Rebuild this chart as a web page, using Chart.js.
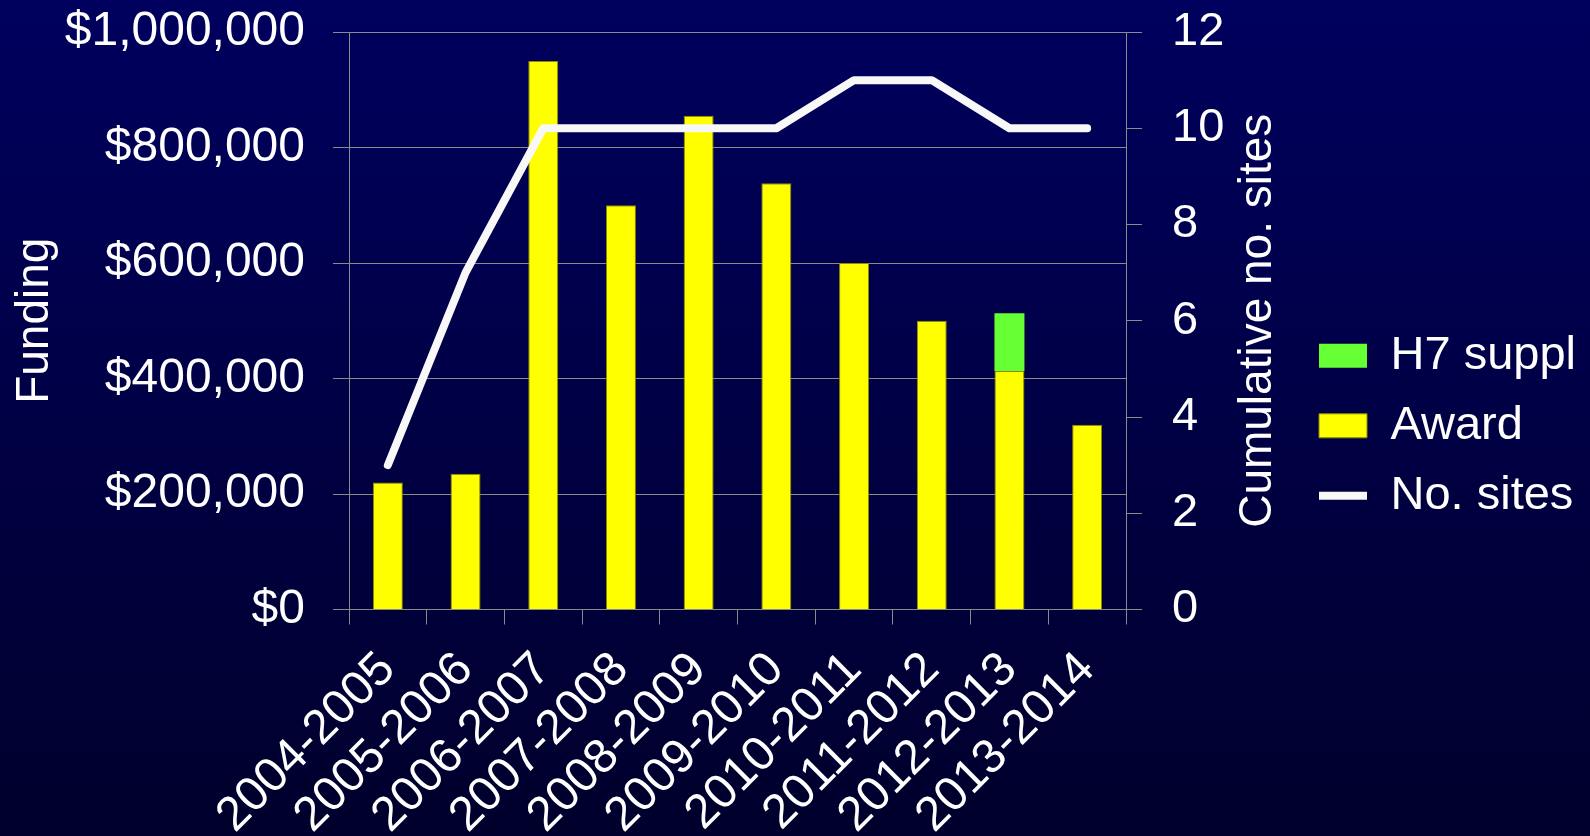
<!DOCTYPE html>
<html>
<head>
<meta charset="utf-8">
<title>Funding and sites</title>
<script src="https://cdn.jsdelivr.net/npm/chart.js@4.4.1/dist/chart.umd.min.js"></script>
<style>
  html, body { margin: 0; padding: 0; background: #000046; }
  #wrap { width: 1590px; height: 836px; }
</style>
</head>
<body>
<div id="wrap"><canvas id="chart" width="1590" height="836"></canvas></div>
<script>
// Chart data
const periods = ['2004-2005', '2005-2006', '2006-2007', '2007-2008', '2008-2009',
                 '2009-2010', '2010-2011', '2011-2012', '2012-2013', '2013-2014'];
const awardFunding = [220000, 235000, 950000, 700000, 855000, 738000, 600000, 500000, 413000, 320000];
const h7Supplement = [0, 0, 0, 0, 0, 0, 0, 0, 100000, 0];
const siteCounts = [3, 7, 10, 10, 10, 10, 11, 11, 10, 10];
const fundingTicks = [0, 200000, 400000, 600000, 800000, 1000000];
const siteTicks = [0, 2, 4, 6, 8, 10, 12];
const legendOrder = ['H7 suppl', 'Award', 'No. sites'];

const FONT = "'Liberation Sans', Arial, sans-serif";
const GRID = '#8a8a8a';

Chart.defaults.font.family = FONT;
Chart.defaults.font.size = 47;
Chart.defaults.color = '#ffffff';

// Dark blue gradient behind everything
const backgroundPlugin = {
  id: 'slideBackground',
  beforeDraw(chart) {
    const { ctx, width, height } = chart;
    const grad = ctx.createLinearGradient(0, 0, 0, height);
    grad.addColorStop(0, '#00005e');
    grad.addColorStop(1, '#00002c');
    ctx.save();
    ctx.fillStyle = grad;
    ctx.fillRect(0, 0, width, height);
    ctx.restore();
  }
};

// Right axis title reads bottom-to-top, so draw it ourselves
const rightTitlePlugin = {
  id: 'rightTitle',
  afterDraw(chart) {
    const scale = chart.scales.y1;
    const title = scale.options.title;
    const x = scale.left + 132;
    const y = (scale.top + scale.bottom) / 2;
    const ctx = chart.ctx;
    ctx.save();
    ctx.translate(x, y);
    ctx.rotate(-Math.PI / 2);
    ctx.font = `${title.font.size}px ${FONT}`;
    ctx.fillStyle = '#ffffff';
    ctx.textAlign = 'center';
    ctx.textBaseline = 'middle';
    ctx.fillText(title.text, 0, 0);
    ctx.restore();
  }
};

const ctx = document.getElementById('chart').getContext('2d');
const chart = new Chart(ctx, {
  data: {
    labels: periods,
    datasets: [
      {
        type: 'bar',
        label: 'Award',
        data: awardFunding,
        backgroundColor: '#ffff00',
        borderColor: '#8c8c00',
        borderWidth: 1,
        pointStyle: 'rect',
        yAxisID: 'y',
        stack: 'funding',
        barPercentage: 0.386,
        categoryPercentage: 1.0,
        order: 2
      },
      {
        type: 'bar',
        label: 'H7 suppl',
        data: h7Supplement,
        backgroundColor: '#66ff33',
        borderColor: '#4fb82a',
        borderWidth: 0,
        pointStyle: 'rect',
        yAxisID: 'y',
        stack: 'funding',
        barPercentage: 0.386,
        categoryPercentage: 1.0,
        order: 2
      },
      {
        type: 'line',
        label: 'No. sites',
        data: siteCounts,
        borderColor: '#f8f8f8',
        backgroundColor: '#f8f8f8',
        borderWidth: 8,
        borderCapStyle: 'round',
        borderJoinStyle: 'round',
        pointRadius: 0,
        pointStyle: 'line',
        tension: 0,
        yAxisID: 'y1',
        order: 1
      }
    ]
  },
  options: {
    responsive: false,
    animation: false,
    layout: {
      padding: { top: 0, right: 4, bottom: 0, left: 0 }
    },
    plugins: {
      legend: {
        position: 'right',
        align: 'center',
        maxWidth: 320,
        // blank title only nudges the items down a little
        title: { display: true, text: ' ', font: { size: 13 }, padding: 0 },
        labels: {
          color: '#ffffff',
          font: { size: 47 },
          usePointStyle: true,
          pointStyleWidth: 48,
          boxHeight: 24,
          padding: 23,
          sort: (a, b) => legendOrder.indexOf(a.text) - legendOrder.indexOf(b.text)
        }
      },
      tooltip: { enabled: false }
    },
    scales: {
      x: {
        stacked: true,
        offset: true,
        grid: {
          offset: true,
          drawOnChartArea: false,
          drawTicks: true,
          tickLength: 15,
          color: GRID
        },
        border: { display: true, color: GRID, width: 1 },
        ticks: {
          color: '#ffffff',
          font: { size: 48 },
          minRotation: 45,
          maxRotation: 45,
          autoSkip: false,
          padding: 17
        },
        afterFit: (scale) => { scale.height = 226.5; }
      },
      y: {
        position: 'left',
        stacked: true,
        min: 0,
        max: 1000000,
        afterBuildTicks: (scale) => { scale.ticks = fundingTicks.map(v => ({ value: v })); },
        grid: {
          color: GRID,
          drawTicks: true,
          tickLength: 16
        },
        border: { display: true, color: GRID, width: 1 },
        ticks: {
          color: '#ffffff',
          font: { size: 48 },
          padding: 28,
          callback: (v) => '$' + Number(v).toLocaleString('en-US')
        },
        title: {
          display: true,
          text: 'Funding',
          color: '#ffffff',
          font: { size: 46 },
          padding: { top: 8, bottom: 4 }
        },
        afterFit: (scale) => {
          scale.width = 349;
          scale.paddingTop = 32;
          scale.paddingBottom = 0;
        }
      },
      y1: {
        position: 'right',
        min: 0,
        max: 12,
        afterBuildTicks: (scale) => { scale.ticks = siteTicks.map(v => ({ value: v })); },
        grid: {
          drawOnChartArea: false,
          drawTicks: true,
          tickLength: 16,
          color: GRID
        },
        border: { display: true, color: GRID, width: 1 },
        ticks: {
          color: '#ffffff',
          font: { size: 47 },
          padding: 30
        },
        title: {
          display: false,
          text: 'Cumulative no. sites',
          font: { size: 46 }
        },
        afterFit: (scale) => {
          scale.width = 170;
          scale.paddingTop = 0;
          scale.paddingBottom = 0;
        }
      }
    }
  },
  plugins: [backgroundPlugin, rightTitlePlugin]
});
</script>
</body>
</html>
